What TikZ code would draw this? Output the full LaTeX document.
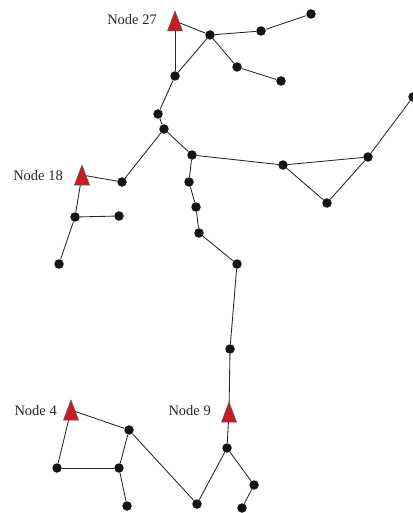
\documentclass[tikz,border=0pt]{standalone}
\usepackage{fontspec}
\setmainfont{Liberation Serif}
\usetikzlibrary{calc}
\definecolor{srcred}{RGB}{200,28,36}
\begin{document}
\begin{tikzpicture}[x=1pt,y=-1pt,
  dot/.style={circle,fill=black!92,inner sep=0pt,minimum size=9.5pt},
  edge/.style={draw=black!85,line width=0.85pt},
  tri/.style={fill=srcred,draw=black!65,line width=0.5pt,line join=miter},
  lbl/.style={font=\fontsize{14.5}{16}\selectfont,inner sep=0pt,anchor=base east,text=black!85}]
\useasboundingbox (0,0) rectangle (412,513);
% source points (triangles)
\coordinate (t27) at (175,21);
\coordinate (t18) at (82,175);
\coordinate (t4) at (71,410);
\coordinate (t9) at (229,412);
% dots
\node[dot] (a) at (210,35) {};
\node[dot] (b) at (261,31) {};
\node[dot] (c) at (311,14) {};
\node[dot] (d) at (237,67) {};
\node[dot] (e) at (281,81) {};
\node[dot] (f) at (175,76) {};
\node[dot] (g) at (158,114) {};
\node[dot] (h) at (164,129) {};
\node[dot] (i) at (192,155) {};
\node[dot] (j) at (283,165) {};
\node[dot] (k) at (368,157) {};
\node[dot] (l) at (327,203) {};
\node[dot] (m) at (413,97) {};
\node[dot] (n) at (122,182) {};
\node[dot] (o) at (189,182) {};
\node[dot] (p) at (196,207) {};
\node[dot] (q) at (75,217) {};
\node[dot] (r) at (119,216) {};
\node[dot] (s) at (59,264) {};
\node[dot] (u) at (199,233) {};
\node[dot] (v) at (237,264) {};
\node[dot] (w) at (230,349) {};
\node[dot] (x) at (129,430) {};
\node[dot] (yy) at (57,468) {};
\node[dot] (z) at (119,468) {};
\node[dot] (aa) at (127,506) {};
\node[dot] (bb) at (197,504) {};
\node[dot] (cc) at (227,448) {};
\node[dot] (dd) at (254,485) {};
\node[dot] (ee) at (242,508) {};
% edges
\draw[edge] (t27) -- (a);
\draw[edge] (t27) -- (f);
\draw[edge] (f) -- (a);
\draw[edge] (a) -- (b);
\draw[edge] (b) -- (c);
\draw[edge] (a) -- (d);
\draw[edge] (d) -- (e);
\draw[edge] (f) -- (g);
\draw[edge] (g) -- (h);
\draw[edge] (h) -- (i);
\draw[edge] (h) -- (n);
\draw[edge] (i) -- (j);
\draw[edge] (j) -- (k);
\draw[edge] (k) -- (m);
\draw[edge] (j) -- (l);
\draw[edge] (l) -- (k);
\draw[edge] (i) -- (o);
\draw[edge] (o) -- (p);
\draw[edge] (p) -- (u);
\draw[edge] (u) -- (v);
\draw[edge] (v) -- (w);
\draw[edge] (w) -- (t9);
\draw[edge] (t9) -- (cc);
\draw[edge] (cc) -- (bb);
\draw[edge] (cc) -- (dd);
\draw[edge] (dd) -- (ee);
\draw[edge] (t18) -- (n);
\draw[edge] (t18) -- (q);
\draw[edge] (q) -- (r);
\draw[edge] (q) -- (s);
\draw[edge] (t4) -- (x);
\draw[edge] (t4) -- (yy);
\draw[edge] (yy) -- (z);
\draw[edge] (z) -- (x);
\draw[edge] (z) -- (aa);
\draw[edge] (x) -- (bb);
% triangles
\foreach \t in {t27,t18,t4,t9}{
  \path[tri] ($(\t)+(0,-10)$) -- ($(\t)+(7.5,10)$) -- ($(\t)+(-7.5,10)$) -- cycle;
}
% labels
\node[lbl] (l27) at (157,25) {Node 27};
\node[lbl] (l18) at (63,180) {Node 18};
\node[lbl] (l4) at (57,415) {Node 4};
\node[lbl] (l9) at (211,415) {Node 9};
\end{tikzpicture}
\end{document}
